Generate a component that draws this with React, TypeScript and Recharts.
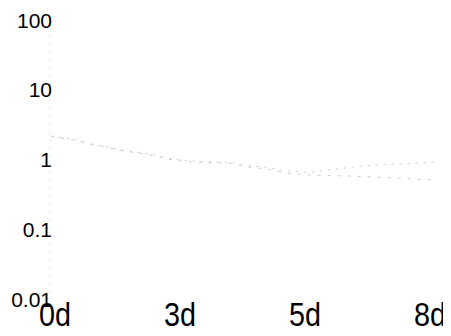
import React from 'react';
import { LineChart, Line, XAxis, YAxis } from 'recharts';

// x positions are in tick steps (0d, 3d, 5d, 8d are evenly spaced)
const xPos = [-0.03, 0.18, 0.27, 0.43, 0.53, 0.65, 0.8, 0.89, 1.0, 1.17, 1.39, 1.53, 1.7, 1.86, 2.03, 2.2, 2.37, 2.57, 2.77, 2.9, 3.05];
const upperVals = [2.2, 1.93, 1.72, 1.53, 1.39, 1.3, 1.18, 1.07, 1.0, 0.95, 0.93, 0.84, 0.78, 0.7, 0.66, 0.72, 0.79, 0.85, 0.88, 0.9, 0.94];
const lowerVals = [2.15, 1.9, 1.7, 1.5, 1.36, 1.27, 1.15, 1.04, 0.97, 0.92, 0.9, 0.8, 0.74, 0.65, 0.61, 0.6, 0.59, 0.57, 0.55, 0.53, 0.52];
const xTickLabels = ['0d', '3d', '5d', '8d'];
const yTicks = [0.01, 0.1, 1, 10, 100];

const data = xPos.map((x, i) => ({ x, upper: upperVals[i], lower: lowerVals[i] }));

// tall narrow labels like the reference
const DayTick = (props: any) => {
  const { x, y, payload } = props;
  return (
    <text
      x={x}
      y={y + 26}
      textAnchor="middle"
      fontSize={33}
      fill="#000"
      textLength={32}
      lengthAdjust="spacingAndGlyphs"
    >
      {xTickLabels[payload.value]}
    </text>
  );
};

export default function App() {
  return (
    <LineChart
      width={443}
      height={328}
      data={data}
      margin={{ top: 12, right: 14, bottom: 0, left: 0 }}
      style={{ fontFamily: '"Liberation Sans", Arial, sans-serif' }}
    >
      <XAxis
        type="number"
        dataKey="x"
        domain={[-0.04, 3.056]}
        ticks={[0, 1, 2, 3]}
        height={36}
        axisLine={false}
        tickLine={false}
        tickSize={0}
        tickMargin={0}
        tick={<DayTick />}
      />
      <YAxis
        scale="log"
        domain={[0.01, 100]}
        ticks={yTicks}
        tickFormatter={(v: number) => String(v)}
        width={42}
        axisLine={{ stroke: '#cccccc', strokeDasharray: '1 7' }}
        tickLine={false}
        tickSize={0}
        tickMargin={0}
        tick={{ fontSize: 21, fill: '#000', dx: 2 }}
        allowDataOverflow
      />
      <Line dataKey="upper" stroke="#cdcdcd" strokeWidth={1} strokeDasharray="2 6" dot={false} isAnimationActive={false} />
      <Line dataKey="lower" stroke="#cdcdcd" strokeWidth={1} strokeDasharray="3 7" dot={false} isAnimationActive={false} />
    </LineChart>
  );
}
